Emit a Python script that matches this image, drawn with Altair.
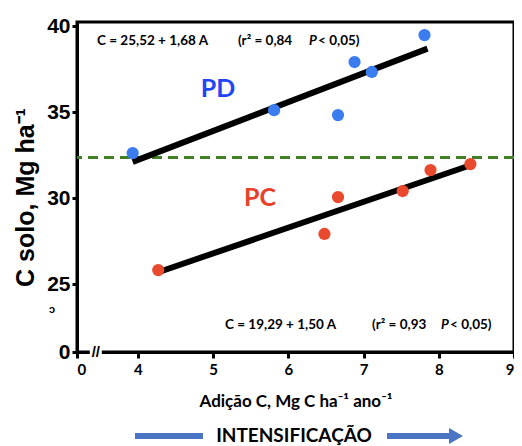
import altair as alt
import pandas as pd

# ---- data ----
pd_x = [3.93, 5.81, 6.66, 6.88, 7.11, 7.81]
pd_y = [32.63, 35.13, 34.84, 37.93, 37.35, 39.5]
pc_x = [4.27, 6.48, 6.66, 7.52, 7.89, 8.42]
pc_y = [25.82, 27.92, 30.07, 30.42, 31.64, 31.99]

# regression lines (end points)
pd_line_x = [3.93, 7.85]
pd_line_y = [32.12, 38.71]
pc_line_x = [4.24, 8.44]
pc_line_y = [25.65, 31.95]

ref_level = 32.37

x_ticks = [3.19, 4, 5, 6, 7, 8, 9]
y_ticks = [21.05, 25, 30, 35, 40]
X_DOM = [3.19, 9]
Y_DOM = [21.05, 40.26]

BLUE_PT = "#3b7cf0"
RED_PT = "#e9492c"
ARROW = "#4a74c4"
FONT_C = "Lato"
FONT_A = "Liberation Sans"

pts = pd.DataFrame({"x": pd_x + pc_x, "y": pd_y + pc_y,
                    "g": ["PD"] * len(pd_x) + ["PC"] * len(pc_x)})
lines = pd.DataFrame({"x": pd_line_x + pc_line_x, "y": pd_line_y + pc_line_y,
                      "g": ["PD", "PD", "PC", "PC"]})

xs = alt.Scale(domain=X_DOM, nice=False, zero=False)
ys = alt.Scale(domain=Y_DOM, nice=False, zero=False)

xax = alt.Axis(values=x_ticks,
               labelExpr="datum.value < 3.5 ? '0' : format(datum.value, 'd')",
               title="Adição C, Mg C ha⁻¹ ano⁻¹", titleFont=FONT_C, titleFontSize=17,
               titleFontWeight="bold", titleColor="black", titlePadding=16,
               labelFont=FONT_C, labelFontSize=15, labelFontWeight="bold", labelColor="black",
               labelPadding=4, domainColor="black", domainWidth=3, tickColor="black",
               tickWidth=3, tickSize=6, grid=False, labelFlush=True)
yax = alt.Axis(values=y_ticks, labelExpr="datum.value < 22 ? '0' : datum.label",
               title="C solo, Mg ha⁻¹", titleFont=FONT_A, titleFontSize=25,
               titleFontWeight="bold", titleColor="black", titleAngle=270,
               titleX=-52, titleY=175, titleAlign="center", titleBaseline="middle",
               labelFont=FONT_A, labelFontSize=21, labelFontWeight="bold", labelColor="black",
               labelPadding=2, domainColor="black", domainWidth=3, tickColor="black",
               tickWidth=3, tickSize=5, grid=False, labelFlush=False)

base = alt.Chart(pts)

refline = alt.Chart(pd.DataFrame({"y": [ref_level]})).mark_rule(
    color="#3f7f25", strokeWidth=3, strokeDash=[10, 6]
).encode(y=alt.Y("y:Q", scale=ys, axis=yax))

reg = alt.Chart(lines).mark_line(color="black", strokeWidth=6).encode(
    x=alt.X("x:Q", scale=xs, axis=xax), y=alt.Y("y:Q", scale=ys), detail="g:N")

points = base.mark_circle(size=150, opacity=1).encode(
    x=alt.X("x:Q", scale=xs), y=alt.Y("y:Q", scale=ys),
    color=alt.Color("g:N", scale=alt.Scale(domain=["PD", "PC"], range=[BLUE_PT, RED_PT]),
                    legend=None))

# group labels
grp = pd.DataFrame({"x": [5.065, 5.624], "y": [36.36, 30.01], "t": ["PD", "PC"],
                    "c": ["#1f47f5", "#e8402a"]})
grp_txt = alt.Chart(grp).mark_text(font=FONT_C, fontSize=25, fontWeight="bold").encode(
    x=alt.X("x:Q", scale=xs), y=alt.Y("y:Q", scale=ys), text="t:N",
    color=alt.Color("c:N", scale=None))

# equations
eq = pd.DataFrame({
    "x": [3.456, 5.33, 6.395, 5.158, 7.113, 8.15],
    "y": [39.15, 39.15, 39.15, 22.62, 22.62, 22.62],
    "t": ["C = 25,52 + 1,68 A", "(r² = 0,84", "< 0,05)",
          "C = 19,29  + 1,50 A", "(r² = 0,93", "< 0,05)"]})
eq_txt = alt.Chart(eq).mark_text(font=FONT_C, fontSize=13.5, fontWeight="bold",
                                 align="left", color="black").encode(
    x=alt.X("x:Q", scale=xs), y=alt.Y("y:Q", scale=ys), text="t:N")
pp = pd.DataFrame({"x": [6.275, 8.03], "y": [39.15, 22.62], "t": ["P", "P"]})
p_txt = alt.Chart(pp).mark_text(font=FONT_C, fontSize=13.5, fontWeight="bold",
                                fontStyle="italic", align="left", color="black").encode(
    x=alt.X("x:Q", scale=xs), y=alt.Y("y:Q", scale=ys), text="t:N")

# axis break marks
brk = alt.Chart(pd.DataFrame({"x": [3.36], "x2": [3.52], "y": [Y_DOM[0]]})).mark_rule(
    color="white", strokeWidth=6).encode(
    x=alt.X("x:Q", scale=xs), x2="x2:Q", y=alt.Y("y:Q", scale=ys))
brk_txt = alt.Chart(pd.DataFrame({"x": [3.44], "y": [Y_DOM[0]], "t": ["//"]})).mark_text(
    font=FONT_A, fontSize=15, fontWeight="bold", color="black").encode(
    x=alt.X("x:Q", scale=xs), y=alt.Y("y:Q", scale=ys), text="t:N")

# stray glyph under the 25 label
stray = alt.Chart(pd.DataFrame({"t": ["ɔ"]})).mark_text(
    font=FONT_A, fontSize=11, fontWeight="bold", color="black").encode(
    x=alt.value(-25), y=alt.value(288), text="t:N")

# INTENSIFICACAO arrow
intens = alt.Chart(pd.DataFrame({"t": ["INTENSIFICAÇÃO"]})).mark_text(
    font=FONT_C, fontSize=19, fontWeight="bold", color="black").encode(
    x=alt.value(217), y=alt.value(414), text="t:N")
arr1 = alt.Chart(pd.DataFrame({"a": [0]})).mark_rule(color=ARROW, strokeWidth=6).encode(
    x=alt.value(58), x2=alt.value(126), y=alt.value(414))
arr2 = alt.Chart(pd.DataFrame({"a": [0]})).mark_rule(color=ARROW, strokeWidth=6).encode(
    x=alt.value(310), x2=alt.value(374), y=alt.value(414))
head = alt.Chart(pd.DataFrame({"a": [0]})).mark_point(
    shape="triangle-right", filled=True, color=ARROW, size=260, opacity=1).encode(
    x=alt.value(379), y=alt.value(414))

chart = alt.layer(refline, reg, points, grp_txt, eq_txt, p_txt, brk, brk_txt, stray,
                  intens, arr1, arr2, head).properties(
    width=437, height=330,
    autosize=alt.AutoSizeParams(type="none"),
    padding={"left": 69, "top": 14, "right": 0, "bottom": 94},
    background="white",
).configure_view(stroke="black", strokeWidth=3)

chart.save("out.html", embed_options={"renderer": "svg", "actions": False})
